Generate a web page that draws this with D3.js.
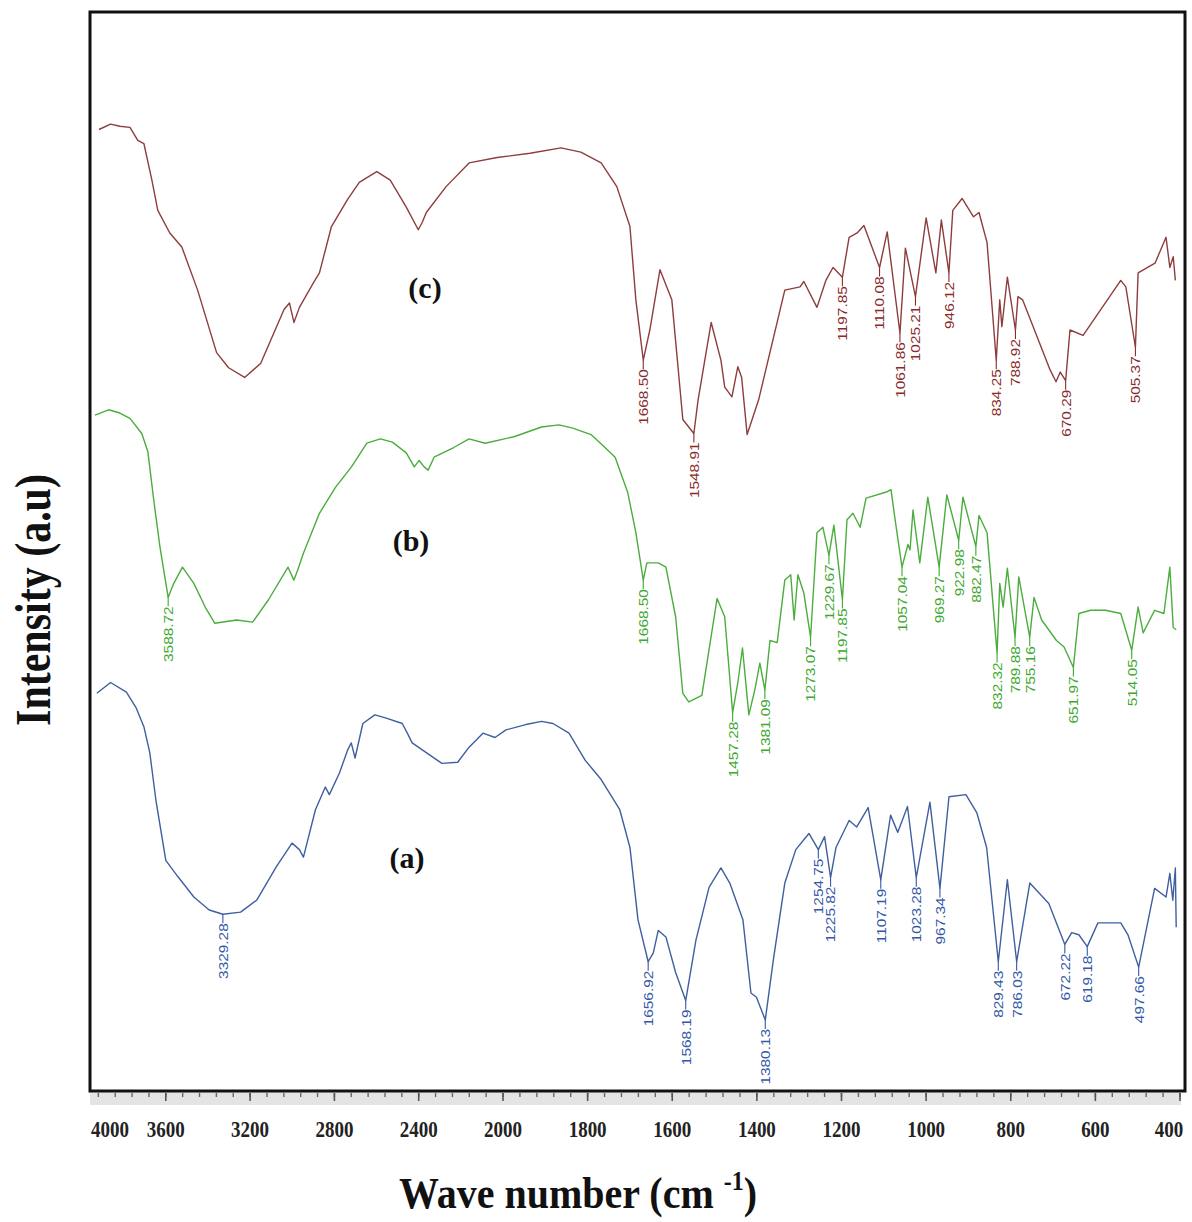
<!DOCTYPE html>
<html>
<head>
<meta charset="utf-8">
<script src="https://cdn.jsdelivr.net/npm/d3@7"></script>
<style>
  html, body { margin: 0; padding: 0; background: #ffffff; }
  svg { display: block; }
</style>
</head>
<body>
<div id="chart"></div>
<script>
// ---------------- DATA ----------------
// wavenumber (cm-1), intensity (a.u., 0 = bottom of frame, 100 = top)
const seriesNames = ["(a)", "(b)", "(c)"];

const seriesC = [
  [3917,89.1],[3862,89.6],[3818,89.4],[3770,89.3],[3733,88.1],[3704,87.8],[3666,84.4],[3638,81.6],
  [3581,79.5],[3524,78.2],[3449,74.2],[3359,68.4],[3302,67.0],[3226,66.1],[3150,67.4],[3039,72.4],
  [3013,73.0],[2992,71.2],[2966,72.6],[2899,74.9],[2871,75.8],[2814,80.1],[2738,82.6],[2682,84.2],
  [2599,85.2],[2535,84.4],[2459,81.9],[2402,79.8],[2383,80.5],[2364,81.4],[2270,83.8],[2161,86.0],
  [2028,86.5],[1936,86.9],[1863,87.4],[1816,87.0],[1768,86.0],[1731,83.8],[1700,80.1],[1686,73.3],
  [1668.50,67.7],[1653,70.5],[1629,76.1],[1601,73.3],[1575,62.2],[1548.91,60.9],[1539,64.0],[1508,71.2],
  [1485,67.7],[1476,65.2],[1459,64.3],[1445,67.1],[1436,66.1],[1423,60.8],[1396,64.0],[1334,74.2],
  [1298,74.5],[1289,75.0],[1258,72.6],[1237,75.1],[1220,76.3],[1197.85,75.4],[1182,79.1],[1163,79.5],
  [1147,80.2],[1110.08,76.3],[1092,79.6],[1061.86,70.2],[1049,78.1],[1025.21,73.6],[1000,80.9],[977,75.8],
  [964,80.7],[946.12,75.8],[937,81.6],[915,82.7],[888,81.0],[875,81.4],[856,78.6],[834.25,67.7],
  [826,73.3],[821,70.8],[808,75.4],[788.92,70.5],[783,73.6],[772,73.3],[707,66.8],[693,65.7],
  [683,66.6],[670.29,65.8],[660,70.5],[629,70.0],[540,75.1],[528,74.5],[505.37,68.9],[499,75.8],
  [459,76.7],[433,79.1],[424,76.3],[416,77.3],[411,75.1]
];

const seriesB = [
  [3936,62.6],[3871,63.1],[3818,62.8],[3770,62.3],[3714,60.9],[3685,59.2],[3657,54.7],[3628,50.4],
  [3588.72,45.7],[3562,47.0],[3521,48.5],[3467,47.0],[3413,44.8],[3368,43.3],[3264,43.6],[3188,43.4],
  [3112,45.5],[3020,48.5],[2992,47.3],[2975,48.2],[2947,49.8],[2871,53.5],[2795,55.9],[2719,57.8],
  [2646,60.0],[2582,60.4],[2525,60.1],[2459,59.1],[2421,57.8],[2398,58.4],[2374,57.8],[2355,57.5],
  [2327,58.7],[2234,59.6],[2161,60.4],[2085,60.0],[1974,60.6],[1909,61.5],[1868,61.7],[1835,61.4],
  [1792,60.8],[1759,59.6],[1735,58.7],[1705,55.4],[1686,51.7],[1668.50,47.3],[1660,48.9],[1633,48.9],
  [1615,48.5],[1592,43.9],[1575,36.8],[1561,36.0],[1530,36.6],[1494,45.6],[1476,43.9],[1457.28,35.0],
  [1445,37.8],[1434,41.0],[1419,34.8],[1405,37.1],[1393,39.6],[1381.09,37.1],[1369,41.7],[1352,41.5],
  [1334,47.3],[1320,47.8],[1312,43.6],[1303,47.8],[1289,46.1],[1273.07,42.0],[1258,51.7],[1244,52.2],
  [1229.67,49.6],[1218,52.4],[1197.85,45.5],[1187,52.9],[1173,53.5],[1156,52.2],[1142,54.9],[1092,55.5],
  [1083,55.7],[1074,53.1],[1057.04,48.5],[1043,50.6],[1038,50.1],[1031,53.8],[1015,48.9],[996,55.0],
  [969.27,48.5],[951,55.2],[922.98,51.0],[913,55.0],[882.47,50.4],[875,53.3],[856,51.7],[832.32,40.5],
  [826,47.0],[818,44.8],[808,48.4],[789.88,42.0],[781,47.6],[755.16,42.0],[745,45.7],[727,43.6],
  [692,41.7],[674,41.1],[651.97,39.2],[639,44.2],[611,44.5],[576,44.5],[540,44.2],[514.05,40.8],
  [499,44.8],[487,42.4],[460,44.5],[438,44.2],[424,48.5],[416,42.9],[409,42.7]
];

const seriesA = [
  [3927,36.8],[3862,37.8],[3787,36.9],[3742,35.5],[3704,33.7],[3676,31.3],[3647,26.9],[3600,21.3],
  [3543,19.8],[3467,17.9],[3394,16.7],[3329.28,16.3],[3245,16.5],[3169,17.6],[3076,20.7],[3001,22.9],
  [2966,22.3],[2947,21.6],[2890,26.0],[2843,28.1],[2824,27.4],[2776,29.4],[2738,31.5],[2720,32.2],
  [2702,30.8],[2665,34.0],[2608,34.8],[2554,34.5],[2478,34.0],[2454,33.1],[2431,32.2],[2364,31.3],
  [2290,30.3],[2215,30.4],[2161,31.8],[2095,33.1],[2038,32.7],[1993,33.4],[1946,33.9],[1909,34.2],
  [1882,34.0],[1844,33.1],[1806,30.6],[1768,28.8],[1724,26.0],[1700,22.5],[1681,15.8],[1656.92,11.9],
  [1645,12.7],[1633,14.8],[1615,14.2],[1592,10.9],[1568.19,8.3],[1544,13.9],[1513,18.8],[1485,20.6],
  [1464,19.2],[1433,15.8],[1414,9.0],[1401,8.6],[1380.13,6.5],[1361,12.1],[1334,19.2],[1308,22.3],
  [1277,23.8],[1254.75,22.3],[1240,23.5],[1225.82,19.7],[1213,22.5],[1182,25.0],[1164,24.4],[1137,26.2],
  [1107.19,19.5],[1084,25.5],[1067,23.9],[1044,26.3],[1023.28,19.7],[991,26.7],[967.34,18.7],[946,27.2],
  [906,27.4],[880,25.7],[857,22.5],[829.43,11.9],[808,19.5],[786.03,11.9],[755,19.2],[710,17.3],
  [672.22,13.5],[656,14.6],[639,14.4],[619.18,13.3],[594,15.5],[568,15.5],[540,15.5],[523,14.4],
  [497.66,11.4],[460,18.7],[433,17.9],[424,20.1],[417,17.6],[411,20.6],[409,15.1]
];

const peaksA = [3329.28,1656.92,1568.19,1380.13,1254.75,1225.82,1107.19,1023.28,967.34,829.43,786.03,672.22,619.18,497.66];
const peaksB = [3588.72,1668.50,1457.28,1381.09,1273.07,1229.67,1197.85,1057.04,969.27,922.98,882.47,832.32,789.88,755.16,651.97,514.05];
const peaksC = [1668.50,1548.91,1197.85,1110.08,1061.86,1025.21,946.12,834.25,788.92,670.29,505.37];

const tickLabels = [4000,3600,3200,2800,2400,2000,1800,1600,1400,1200,1000,800,600,400];

const xTitle = "Wave number (cm ";
const xTitleSup = "-1";
const yTitle = "Intensity (a.u)";

// ---------------- LAYOUT ----------------
const W = 1192, H = 1222;
const frame = { left: 90, right: 1185, top: 12, bottom: 1091 };

const svg = d3.select("#chart").append("svg").attr("width", W).attr("height", H);

// piecewise wavenumber scale (4000-2000 compressed, 2000-400 expanded)
const x = d3.scaleLinear().domain([4000, 2000, 400]).range([81.5, 503, 1180]);
const y = d3.scaleLinear().domain([0, 100]).range([1090, 12]);

const styles = [
  { data: seriesA, peaks: peaksA, line: "#3f5f9f", text: "#3358a6", name: seriesNames[0], lx: 407, ly: 857 },
  { data: seriesB, peaks: peaksB, line: "#4aad3c", text: "#3ea82e", name: seriesNames[1], lx: 411, ly: 540 },
  { data: seriesC, peaks: peaksC, line: "#8e3d3d", text: "#8a2a2a", name: seriesNames[2], lx: 425, ly: 287 }
];

function valueAt(series, wn) {
  for (let i = 0; i < series.length - 1; i++) {
    const a = series[i], b = series[i + 1];
    if (wn <= a[0] && wn >= b[0]) {
      const t = (a[0] - wn) / (a[0] - b[0]);
      return a[1] + t * (b[1] - a[1]);
    }
  }
  return series[series.length - 1][1];
}

// ---------------- RULER AXIS ----------------
const ruler = svg.append("g");
ruler.append("rect")
  .attr("x", frame.left).attr("y", frame.bottom + 1)
  .attr("width", frame.right - frame.left - 4).attr("height", 13)
  .attr("fill", "#e4e4e4");

const minorTicks = d3.range(3600, 2000, -80).concat(d3.range(3680, 3921, 80)).concat(d3.range(2000, 399, -40));
ruler.selectAll("line.minor").data(minorTicks).join("line")
  .attr("class", "minor")
  .attr("x1", d => x(d)).attr("x2", d => x(d))
  .attr("y1", frame.bottom + 2).attr("y2", frame.bottom + 6)
  .attr("stroke", "#666").attr("stroke-width", 1.4);

ruler.selectAll("line.major").data(tickLabels.filter(d => d < 4000)).join("line")
  .attr("class", "major")
  .attr("x1", d => x(d)).attr("x2", d => x(d))
  .attr("y1", frame.bottom + 2).attr("y2", frame.bottom + 10)
  .attr("stroke", "#555").attr("stroke-width", 1.6);

ruler.selectAll("text.tl").data(tickLabels).join("text")
  .attr("class", "tl")
  .attr("transform", d => `translate(${Math.min(Math.max(x(d), 110), 1169)},1137) scale(1,1.18)`)
  .attr("text-anchor", "middle")
  .attr("font-family", "'Liberation Serif','Times New Roman',serif")
  .attr("font-weight", "bold")
  .attr("font-size", 19)
  .attr("fill", "#222")
  .text(d => d);

// ---------------- CURVES ----------------
const line = d3.line().x(d => x(d[0])).y(d => y(d[1]));

const plot = svg.append("g");
styles.forEach(s => {
  plot.append("path")
    .datum(s.data)
    .attr("d", line)
    .attr("fill", "none")
    .attr("stroke", s.line)
    .attr("stroke-width", 1.4)
    .attr("stroke-linejoin", "round");

  const g = plot.append("g");
  s.peaks.forEach(p => {
    const px = x(p), py = y(valueAt(s.data, p));
    g.append("line")
      .attr("x1", px).attr("x2", px)
      .attr("y1", py).attr("y2", py + 9)
      .attr("stroke", s.text).attr("stroke-width", 1.1);
    g.append("text")
      .attr("transform", `translate(${px},${py + 9}) rotate(-90) scale(1.14,1)`)
      .attr("text-anchor", "end")
      .attr("dy", "0.36em")
      .attr("font-family", "'Liberation Sans','DejaVu Sans',sans-serif")
      .attr("font-size", 13.5)
      .attr("fill", s.text)
      .text(d3.format(".2f")(p));
  });

  plot.append("text")
    .attr("x", s.lx).attr("y", s.ly)
    .attr("dy", "0.35em")
    .attr("text-anchor", "middle")
    .attr("font-family", "'Liberation Serif','Times New Roman',serif")
    .attr("font-weight", "bold")
    .attr("font-size", 30)
    .attr("fill", "#111")
    .text(s.name);
});

// ---------------- FRAME ----------------
svg.append("rect")
  .attr("x", frame.left).attr("y", frame.top)
  .attr("width", frame.right - frame.left).attr("height", frame.bottom - frame.top)
  .attr("fill", "none").attr("stroke", "#111").attr("stroke-width", 3);

// ---------------- TITLES ----------------
const xt = svg.append("text")
  .attr("transform", "translate(578,1208) scale(1,1.12)")
  .attr("text-anchor", "middle")
  .attr("font-family", "'Liberation Serif','Times New Roman',serif")
  .attr("font-weight", "bold")
  .attr("font-size", 40)
  .attr("fill", "#111");
xt.append("tspan").text(xTitle);
xt.append("tspan").attr("dy", -16).attr("font-size", 24).text(xTitleSup);
xt.append("tspan").attr("dy", 16).text(")");

svg.append("text")
  .attr("transform", "translate(50,600) rotate(-90) scale(1,1.22)")
  .attr("text-anchor", "middle")
  .attr("font-family", "'Liberation Serif','Times New Roman',serif")
  .attr("font-weight", "bold")
  .attr("font-size", 42)
  .attr("fill", "#111")
  .text(yTitle);
</script>
</body>
</html>
